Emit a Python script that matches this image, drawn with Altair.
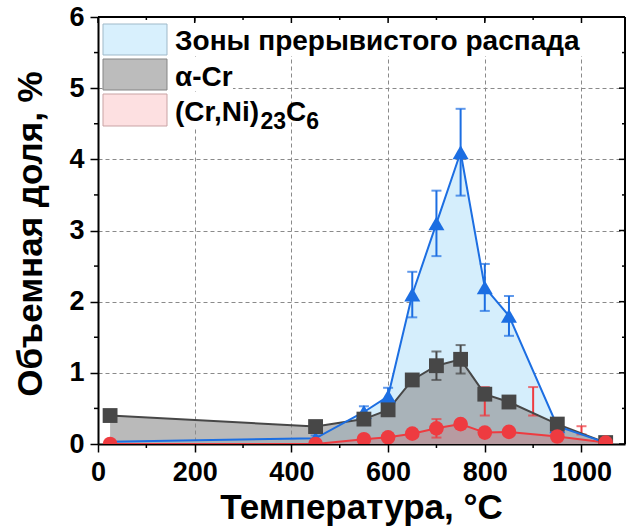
import altair as alt
import pandas as pd

# ---------------- data ----------------
temps = [25, 450, 550, 600, 650, 700, 750, 800, 850, 950, 1050]
zones = [0.03, 0.08, 0.45, 0.67, 2.10, 3.10, 4.10, 2.20, 1.80, 0.25, 0.02]
zones_err = [0.0, 0.04, 0.08, 0.12, 0.32, 0.46, 0.61, 0.33, 0.28, 0.08, 0.01]
acr = [0.40, 0.245, 0.35, 0.48, 0.90, 1.10, 1.19, 0.70, 0.59, 0.28, 0.02]
acr_err = [0.05, 0.04, 0.05, 0.06, 0.07, 0.20, 0.20, 0.08, 0.06, 0.04, 0.01]
carb = [0.0, 0.0, 0.066, 0.094, 0.145, 0.22, 0.28, 0.16, 0.17, 0.105, 0.02]
carb_err = [0.0, 0.0, 0.02, 0.02, 0.03, 0.13, 0.05, 0.03, 0.03, 0.03, 0.0]
# stray (Cr,Ni)23C6 error bars drawn at other temperatures
carb_extra_t = [800, 900, 1000]
carb_extra_lo = [0.40, 0.40, 0.135]
carb_extra_hi = [0.80, 0.80, 0.25]

x_ticks = [0, 200, 400, 600, 800, 1000]
x_minor = [100, 300, 500, 700, 900]
y_ticks = [0, 1, 2, 3, 4, 5, 6]
y_minor = [0.5, 1.5, 2.5, 3.5, 4.5, 5.5]

legend_1 = "Зоны прерывистого распада"
legend_2 = "α-Cr"
legend_3 = ["(Cr,Ni)", "23", "C", "6"]
x_title = "Температура, °C"
y_title = "Объемная доля, %"

# ---------------- styling ----------------
W, H = 527, 427
FONT = "Liberation Sans"
BLUE = "#1c6ee2"
GRAY = "#474747"
RED = "#ee3b40"

df = pd.DataFrame({"t": temps, "zones": zones, "acr": acr, "carb": carb})
df["z_lo"] = [v - e for v, e in zip(zones, zones_err)]
df["z_hi"] = [v + e for v, e in zip(zones, zones_err)]
df["a_lo"] = [v - e for v, e in zip(acr, acr_err)]
df["a_hi"] = [v + e for v, e in zip(acr, acr_err)]
df["c_lo"] = [v - e for v, e in zip(carb, carb_err)]
df["c_hi"] = [v + e for v, e in zip(carb, carb_err)]
extra = pd.DataFrame({"t": carb_extra_t, "lo": carb_extra_lo, "hi": carb_extra_hi})
one = pd.DataFrame({"k": [0]})

xscale = alt.Scale(domain=[0, 1090], nice=False, zero=False)
yscale = alt.Scale(domain=[0, 6], nice=False, zero=False)

common_axis = dict(
    title=None, labelFont=FONT, labelFontSize=27, labelFontWeight="bold",
    labelColor="black", tickSize=8, tickWidth=1.5, tickColor="black",
    domainColor="black", domainWidth=2, grid=True, gridColor="#8a8a8a",
    gridDash=[4, 3], gridWidth=1, labelFlush=False, labelOverlap=False,
    format="d",
)
x_axis = alt.Axis(values=x_ticks, labelPadding=7, **common_axis)
y_axis = alt.Axis(values=y_ticks, labelPadding=6, **common_axis)


def X(f):
    return alt.X(f"{f}:Q", scale=xscale, axis=x_axis)


def Y(f):
    return alt.Y(f"{f}:Q", scale=yscale, axis=y_axis)


base = alt.Chart(df)

area_z = base.mark_area(color="#d5eefc", opacity=1, clip=True).encode(x=X("t"), y=Y("zones"))
area_a = base.mark_area(color="#8c8c8c", opacity=0.6, clip=True).encode(x=X("t"), y=Y("acr"))
area_c = base.mark_area(color=RED, opacity=0.2, clip=True).encode(x=X("t"), y=Y("carb"))


def series_lines(src, col, lo, hi, color):
    b = alt.Chart(src)
    out = []
    if col:
        out.append(b.mark_line(color=color, strokeWidth=2, clip=True).encode(x=X("t"), y=Y(col)))
    out.append(b.mark_rule(color=color, strokeWidth=2, clip=True).encode(x=X("t"), y=Y(lo), y2=alt.Y2(hi)))
    out.append(b.mark_tick(color=color, orient="horizontal", size=10, thickness=2, clip=True).encode(
        x=X("t"), y=Y(lo)))
    out.append(b.mark_tick(color=color, orient="horizontal", size=10, thickness=2, clip=True).encode(
        x=X("t"), y=Y(hi)))
    return out


red_l = series_lines(df, "carb", "c_lo", "c_hi", RED)
red_x = series_lines(extra, None, "lo", "hi", RED)
gray_l = series_lines(df, "acr", "a_lo", "a_hi", GRAY)
blue_l = series_lines(df, "zones", "z_lo", "z_hi", BLUE)

blue_p = base.transform_filter("datum.t > 25").mark_point(
    shape="triangle-up", filled=True, size=256, color=BLUE, opacity=1, clip=True
).encode(x=X("t"), y=Y("zones"))
gray_p = base.mark_point(shape="square", filled=True, size=220, color=GRAY, opacity=1, clip=True).encode(
    x=X("t"), y=Y("acr"))
red_p = base.mark_point(shape="circle", filled=True, size=215, color=RED, opacity=1, clip=True).encode(
    x=X("t"), y=Y("carb"))

# ---------------- frame and extra ticks ----------------
xt = pd.DataFrame({"v": x_ticks})
xm = pd.DataFrame({"v": x_minor})
yt = pd.DataFrame({"v": y_ticks})
ym = pd.DataFrame({"v": y_minor})


def xtick_layer(d, y0, y1):
    return alt.Chart(d).mark_rule(color="black", strokeWidth=1.5).encode(
        x=X("v"), y=alt.value(y0), y2=alt.value(y1))


def ytick_layer(d, x0, x1):
    return alt.Chart(d).mark_rule(color="black", strokeWidth=1.5).encode(
        y=Y("v"), x=alt.value(x0), x2=alt.value(x1))


ticks = [
    xtick_layer(xm, H, H + 4),
    xtick_layer(xt, 0, 6),
    xtick_layer(xm, 0, 3),
    ytick_layer(ym, -4, 0),
    ytick_layer(yt, W - 6, W),
    ytick_layer(ym, W - 3, W),
]

frame_top = alt.Chart(one).mark_rule(color="black", strokeWidth=2).encode(
    x=alt.value(0), x2=alt.value(W), y=alt.value(0))
frame_right = alt.Chart(one).mark_rule(color="black", strokeWidth=2).encode(
    x=alt.value(W), y=alt.value(0), y2=alt.value(H))


# ---------------- legend ----------------
def px_rect(x0, x1, y0, y1, fill, stroke=None):
    kw = dict(fill=fill)
    if stroke:
        kw.update(stroke=stroke, strokeWidth=1)
    return alt.Chart(one).mark_rect(**kw).encode(
        x=alt.value(x0), x2=alt.value(x1), y=alt.value(y0), y2=alt.value(y1))


def px_text(s, x, y, size, align="left", baseline="alphabetic", angle=None):
    kw = dict(text=s, font=FONT, fontSize=size, fontWeight="bold", color="black",
              align=align, baseline=baseline)
    if angle is not None:
        kw["angle"] = angle
    return alt.Chart(one).mark_text(**kw).encode(x=alt.value(x), y=alt.value(y))


LX0, LX1 = 5, 69
TX = 77
LF = 28
SF = 23
legend = [
    px_rect(LX0, 486, 6, 39, "white"),
    px_rect(LX0, 135, 41, 74, "white"),
    px_rect(LX0, 122, 76, 112, "white"),
    px_rect(LX0, LX1, 7, 38, "#d8f0fd", "#9fb9c9"),
    px_rect(LX0, LX1, 42, 73, "#bcbcbc", "#858585"),
    px_rect(LX0, LX1, 77, 109, "#fde0e1", "#c9a3a4"),
    px_text(legend_1, TX, 33, LF),
    px_text(legend_2, TX, 69, LF),
    px_text(legend_3[0], TX, 103.5, LF),
    px_text(legend_3[1], TX + 85.5, 112, SF),
    px_text(legend_3[2], TX + 85.5 + 25.6, 103.5, LF),
    px_text(legend_3[3], TX + 85.5 + 25.6 + 20.2, 112, SF),
]

titles = [
    px_text(x_title, W / 2, 502, 35, align="center"),
    px_text(y_title, -56, 217, 35, align="center", angle=270),
]

layers = ([area_z, area_a, area_c] + red_l + red_x + gray_l + blue_l
          + [blue_p, gray_p, red_p] + ticks + [frame_top, frame_right] + legend + titles)

chart = alt.layer(*layers).properties(
    width=W, height=H,
    padding={"left": 98, "top": 17, "right": 1, "bottom": 86},
    autosize=alt.AutoSizeParams(type="none"),
).configure_view(stroke=None)

chart.save("out.html", embed_options={"renderer": "svg", "actions": False})
